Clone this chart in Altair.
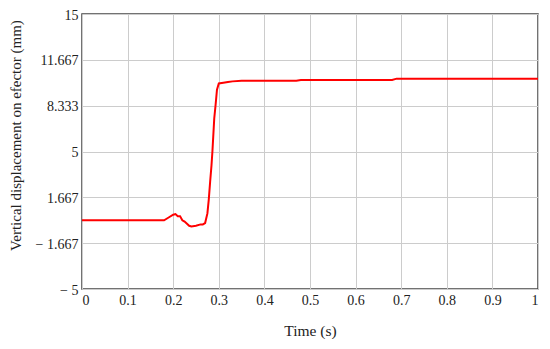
import altair as alt
import pandas as pd

time_s = [0, 0.18, 0.19, 0.2, 0.205, 0.21, 0.215, 0.22, 0.225, 0.235, 0.24, 0.25, 0.26,
          0.265, 0.27, 0.275, 0.278, 0.281, 0.284, 0.286, 0.29, 0.293, 0.296, 0.3, 0.31,
          0.32, 0.33, 0.35, 0.47, 0.48, 0.68, 0.69, 1.0]
disp_mm = [0, 0, 0.2, 0.4, 0.45, 0.3, 0.3, 0.0, -0.1, -0.4, -0.45, -0.4, -0.3,
           -0.3, -0.2, 0.5, 1.5, 2.8, 4.0, 5.0, 7.4, 8.4, 9.5, 9.95, 10.0,
           10.05, 10.1, 10.15, 10.15, 10.2, 10.2, 10.3, 10.3]

x_ticks = [0, 0.1, 0.2, 0.3, 0.4, 0.5, 0.6, 0.7, 0.8, 0.9, 1.0]
y_ticks = [-5, -5 + 10 / 3, -5 + 20 / 3, 5, 5 + 10 / 3, 5 + 20 / 3, 15]

df = pd.DataFrame({"t": time_s, "d": disp_mm})

font = "Liberation Serif"

chart = alt.Chart(df).mark_line(color="#ff0000", strokeWidth=2, clip=True).encode(
    x=alt.X("t:Q", title="Time (s)",
            scale=alt.Scale(domain=[0, 1], nice=False),
            axis=alt.Axis(values=x_ticks, labelExpr="datum.value + ''",
                          labelFont=font, labelFontSize=14,
                          titleFont=font, titleFontSize=15.5,
                          titlePadding=16)),
    y=alt.Y("d:Q", title="Vertical displacement on efector (mm)",
            scale=alt.Scale(domain=[-5, 15], nice=False),
            axis=alt.Axis(values=y_ticks,
                          labelExpr="datum.value < 0 ? '\u2212 ' + (round(-datum.value*1000)/1000) : (round(datum.value*1000)/1000) + ''",
                          labelFont=font, labelFontSize=14, labelOffset=1,
                          titleFont=font, titleFontSize=15,
                          titleY=121, titlePadding=12)),
).properties(
    width=456, height=275,
    autosize=alt.AutoSizeParams(type="none"),
    padding={"left": 74, "top": 6, "right": 4, "bottom": 50}
).configure_view(
    stroke="#444444", strokeWidth=1.5
).configure_axis(
    grid=True, gridColor="#cccccc", gridWidth=1,
    domain=False, ticks=False,
    labelColor="#222222",
    titleFontWeight="normal", titleColor="#222222",
    labelPadding=4,
)

chart.save("out.html", embed_options={"renderer": "svg", "actions": False})
